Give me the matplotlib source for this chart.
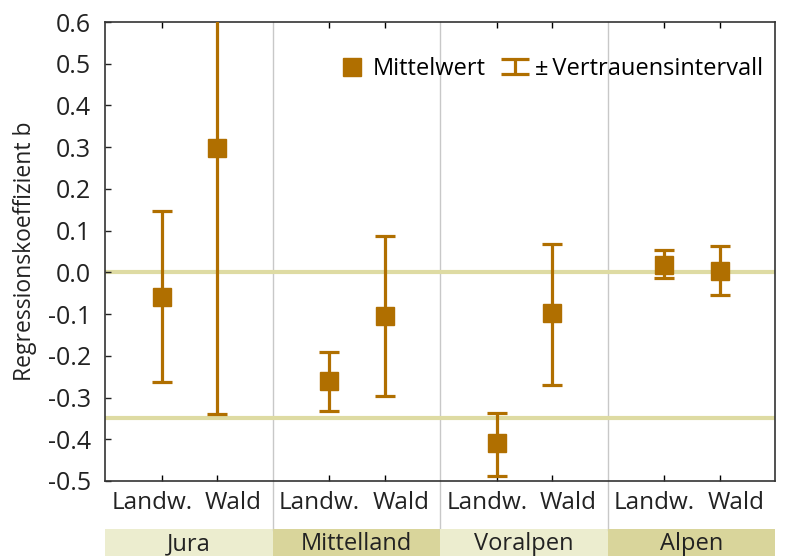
import numpy as np
import matplotlib
matplotlib.use("Agg")
import matplotlib.pyplot as plt
from matplotlib.patches import Rectangle
from matplotlib.ticker import MultipleLocator
from matplotlib.container import ErrorbarContainer
from matplotlib.legend_handler import HandlerErrorbar

plt.rcParams['font.family'] = ['Open Sans', 'DejaVu Sans']

# Regionen und Landnutzung
regions = ["Jura", "Mittelland", "Voralpen", "Alpen"]
landuse = ["Landw.", "Wald"]

# Mittelwerte und Grenzen des Vertrauensintervalls (je Region: Landw., Wald)
means = [-0.060, 0.297, -0.261, -0.105, -0.410, -0.098, 0.017, 0.004]
upper = [0.148, 0.934, -0.190, 0.086, -0.338, 0.067, 0.053, 0.063]
lower = [-0.262, -0.340, -0.333, -0.297, -0.487, -0.271, -0.014, -0.055]

# Referenzlinien
ref_lines = [0.0, -0.35]

col = "#b06f00"
box_cols = ["#ecedcf", "#d9d59b"]
ref_col = "#dedba3"
txt_col = "#222222"

means = np.array(means)
err = np.vstack([means - np.array(lower), np.array(upper) - means])
xpos = np.array([i + f for i in range(len(regions)) for f in (0.34, 0.67)])

fig = plt.figure(figsize=(7.85, 5.56), dpi=100)
ax = fig.add_axes([0.1338, 0.1349, 0.8535, 0.8255])

for y in ref_lines:
    ax.axhline(y, color=ref_col, lw=3, zorder=1)

ax.errorbar(xpos, means, yerr=err, fmt='none', ecolor=col, elinewidth=2.3,
            capsize=7.5, capthick=2.3, zorder=3)
ax.plot(xpos, means, 's', color=col, markersize=13, zorder=4, label="Mittelwert")

# Legendensymbol fuer das Intervall (breitere Kappen)
ax.errorbar([np.nan], [np.nan], yerr=[np.nan], fmt='none', ecolor=col,
            elinewidth=2.3, capsize=10, capthick=2.3,
            label="±\u2009Vertrauensintervall")

ax.set_xlim(0, len(regions))
ax.set_ylim(-0.5, 0.6)

# y-Achse: Beschriftung alle 0.1, Gitter alle 0.2
ax.yaxis.set_major_locator(MultipleLocator(0.1))
ax.yaxis.set_minor_locator(MultipleLocator(0.2))
ax.set_yticklabels([f"{v:.1f}" for v in ax.get_yticks()])
ax.grid(which='minor', axis='y', color='#cccccc', lw=1, zorder=0)
ax.tick_params(axis='y', which='major', direction='in', length=4, width=1,
               labelsize=18, pad=10, right=False, colors=txt_col)
ax.tick_params(axis='y', which='minor', length=0)
ax.set_ylabel("Regressionskoeffizient b", fontsize=16.5, labelpad=8, color=txt_col)

ax.set_xticks(xpos)
ax.set_xticklabels([])
ax.tick_params(axis='x', direction='in', length=4, width=1, top=True)

for s in ax.spines.values():
    s.set_color('#333333')
    s.set_linewidth(1.2)

trans = ax.get_xaxis_transform()
for i, reg in enumerate(regions):
    # Trennlinien zwischen den Regionen
    if i > 0:
        ax.plot([i, i], [1, -0.107], transform=trans, color='#c8c8c8', lw=1,
                clip_on=False, zorder=0)
    ax.add_patch(Rectangle((i, -0.2), 1, 0.0955, transform=trans,
                           facecolor=box_cols[i % 2], edgecolor='none',
                           clip_on=False, zorder=0))
    ax.text(i + 0.5, -0.138, reg, transform=trans, ha='center', va='center',
            fontsize=17, color=txt_col)
    for name, off in zip(landuse, (0.28, 0.765)):
        ax.text(i + off, -0.047, name, transform=trans, ha='center',
                va='center', fontsize=17.5, color=txt_col)

ax.legend(loc='upper right', frameon=False, fontsize=17, ncol=2,
          bbox_to_anchor=(1.0, 0.95), handlelength=1.1, handletextpad=0.3,
          columnspacing=0.7, borderaxespad=0.1,
          handler_map={ErrorbarContainer: HandlerErrorbar(yerr_size=0.32)})

fig.savefig("out.png", dpi=100)
